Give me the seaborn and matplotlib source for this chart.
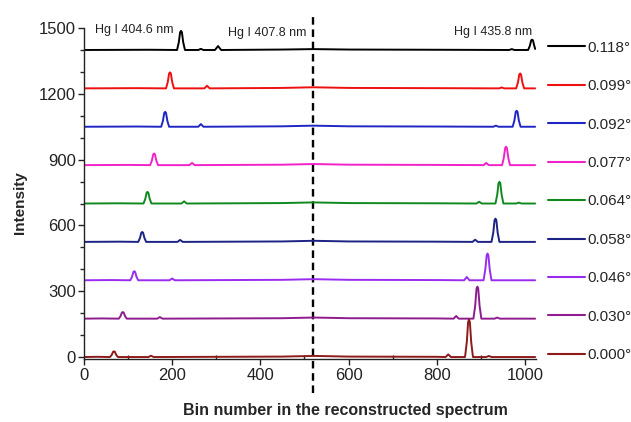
import matplotlib
matplotlib.use("Agg")
import matplotlib.pyplot as plt
import seaborn as sns
import pandas as pd
from matplotlib.ticker import FixedLocator

# ---- data (relative intensities; offsets separate) ----
labels = ["0.118°", "0.099°", "0.092°", "0.077°", "0.064°",
          "0.058°", "0.046°", "0.030°", "0.000°"]
offsets = [1400, 1225, 1050, 875, 700, 525, 350, 175, 0]
colors = ["#000000", "#ee1111", "#1f26c4", "#f022c8", "#12891f",
          "#1c2384", "#9a2cf0", "#8e1c8e", "#8e1a1a"]

x_0118 = [0, 150, 211, 215, 218, 220, 222, 225, 229, 259, 265, 271, 297, 304, 311,
          450, 520, 600, 800, 964, 970, 976, 1007, 1011, 1014, 1016, 1018, 1021, 1023]
y_0118 = [0, 1, 0, 35, 81, 87, 81, 35, 0, 0, 5, 0, 0, 18, 0,
          2, 4, 2, 1, 0, 4, 0, 0, 19, 44, 47, 44, 19, 5]

x_0099 = [0, 120, 186, 190, 193, 195, 197, 200, 204, 273, 279, 285,
          450, 520, 600, 800, 941, 947, 953, 980, 984, 987, 989, 991, 994, 998, 1023]
y_0099 = [0, 1, 0, 29, 68, 73, 68, 29, 0, 0, 12, 0,
          2, 5, 2, 1, 0, 4, 0, 0, 27, 63, 68, 63, 27, 0, 0]

x_0092 = [0, 120, 175, 179, 182, 184, 186, 189, 193, 259, 265, 271,
          450, 520, 600, 800, 928, 934, 940, 972, 976, 979, 981, 983, 986, 990, 1023]
y_0092 = [0, 1, 0, 27, 63, 68, 63, 27, 0, 0, 12, 0,
          2, 5, 2, 1, 0, 5, 0, 0, 29, 68, 73, 68, 29, 0, 0]

x_0077 = [0, 100, 150, 154, 157, 159, 161, 164, 168, 239, 245, 251,
          450, 520, 600, 800, 906, 912, 918, 948, 952, 955, 957, 959, 962, 966, 1023]
y_0077 = [0, 1, 0, 21, 49, 53, 49, 21, 0, 0, 10, 0,
          2, 5, 2, 1, 0, 10, 0, 0, 34, 78, 84, 78, 34, 0, 0]

x_0064 = [0, 80, 135, 139, 142, 144, 146, 149, 153, 221, 227, 233,
          450, 520, 600, 800, 890, 896, 902, 933, 937, 940, 942, 944, 947, 951,
          980, 986, 992, 1023]
y_0064 = [0, 1, 0, 21, 49, 53, 49, 21, 0, 0, 10, 0,
          2, 5, 2, 1, 0, 8, 0, 0, 40, 92, 99, 92, 40, 0,
          0, 4, 0, 0]

x_0058 = [0, 80, 123, 127, 130, 132, 134, 137, 141, 212, 218, 224,
          450, 520, 600, 800, 881, 887, 893, 924, 928, 931, 933, 935, 938, 942, 1023]
y_0058 = [0, 1, 0, 18, 42, 45, 42, 18, 0, 0, 9, 0,
          2, 5, 2, 1, 0, 10, 0, 0, 42, 99, 106, 99, 42, 0, 0]

x_0046 = [0, 60, 105, 109, 112, 114, 116, 119, 123, 194, 200, 206,
          450, 520, 600, 800, 862, 868, 874, 906, 910, 913, 915, 917, 920, 924, 1023]
y_0046 = [0, 1, 0, 16, 38, 41, 38, 16, 0, 0, 8, 0,
          2, 5, 2, 1, 0, 15, 0, 0, 49, 113, 122, 113, 49, 0, 0]

x_0030 = [0, 40, 79, 83, 86, 88, 90, 93, 97, 166, 172, 178,
          450, 520, 550, 600, 800, 838, 844, 850, 883, 887, 890, 892, 894, 897, 901,
          931, 937, 943, 1023]
y_0030 = [0, 1, 0, 12, 28, 30, 28, 12, 0, 0, 7, 0,
          2, 5, 4, 2, 1, 0, 12, 0, 0, 58, 136, 146, 136, 58, 0,
          0, 5, 0, 0]

x_0000 = [0, 30, 59, 63, 66, 68, 70, 73, 77, 146, 152, 158,
          450, 520, 550, 600, 800, 820, 826, 832, 864, 868, 871, 873, 875, 878, 882,
          912, 918, 924, 1023]
y_0000 = [0, 1, 0, 10, 24, 26, 24, 10, 0, 0, 6, 0,
          2, 5, 4, 2, 1, 0, 12, 0, 0, 68, 159, 171, 159, 68, 0,
          0, 5, 0, 0]

xs = [x_0118, x_0099, x_0092, x_0077, x_0064, x_0058, x_0046, x_0030, x_0000]
ys = [y_0118, y_0099, y_0092, y_0077, y_0064, y_0058, y_0046, y_0030, y_0000]

x_ticks = [0, 200, 400, 600, 800, 1000]
x_minor = [100, 300, 500, 700, 900]
y_ticks = [0, 300, 600, 900, 1200, 1500]
y_minor = [100, 200, 400, 500, 700, 800, 1000, 1100, 1300, 1400]
marker_bin = 520

annotations = [("Hg I 404.6 nm", 25, 1491), ("Hg I 407.8 nm", 327, 1477),
               ("Hg I 435.8 nm", 839, 1482)]

# ---- build table ----
rows = []
for lab, off, xx, yy in zip(labels, offsets, xs, ys):
    for a, b in zip(xx, yy):
        rows.append({"bin": a, "intensity": b + off, "angle": lab})
df = pd.DataFrame(rows)

sns.set_theme(style="ticks")
plt.rcParams["font.family"] = ["Liberation Sans", "DejaVu Sans"]

fig = plt.figure(figsize=(6.31, 4.22), dpi=100)
ax = fig.add_axes([0.1331, 0.0682, 0.7157, 0.9017])

sns.lineplot(data=df, x="bin", y="intensity", hue="angle", hue_order=labels,
             palette=colors, estimator=None, sort=False, linewidth=1.4, ax=ax)

ax.axvline(marker_bin, color="black", lw=1.7, linestyle=(0, (3.2, 2.0)), zorder=1)

for txt, xa, ya in annotations:
    ax.text(xa, ya, txt, fontsize=9, color="#222222", ha="left", va="center")

ax.set_xlim(0, 1024)
ax.set_ylim(-165, 1570)
sns.despine(ax=ax)
ax.spines["bottom"].set_position(("data", -10))
ax.spines["left"].set_bounds(-10, 1500)
for s in ("left", "bottom"):
    ax.spines[s].set_linewidth(1.0)
    ax.spines[s].set_color("#222222")

ax.xaxis.set_major_locator(FixedLocator(x_ticks))
ax.xaxis.set_minor_locator(FixedLocator(x_minor))
ax.yaxis.set_major_locator(FixedLocator(y_ticks))
ax.yaxis.set_minor_locator(FixedLocator(y_minor))
ax.tick_params(axis="both", which="major", length=4, width=1.0, labelsize=12,
               colors="#222222", pad=2)
ax.tick_params(axis="x", which="minor", length=3, width=1.0, direction="in")
ax.tick_params(axis="y", which="minor", length=3, width=1.0, direction="out")

ax.set_xlabel("Bin number in the reconstructed spectrum", fontsize=11.5,
              fontweight="bold")
ax.xaxis.set_label_coords(0.58, -0.026)
ax.set_ylabel("Intensity", fontsize=11, fontweight="bold", labelpad=8)

sns.move_legend(ax, "upper left", bbox_to_anchor=(0.8685, 0.9036),
                bbox_transform=fig.transFigure, frameon=False, title=None,
                fontsize=11, labelspacing=1.6, handlelength=2.42,
                handletextpad=0.13, borderpad=0, borderaxespad=0)
for h in ax.get_legend().get_lines():
    h.set_linewidth(1.5)

fig.savefig("out.png", dpi=100)
